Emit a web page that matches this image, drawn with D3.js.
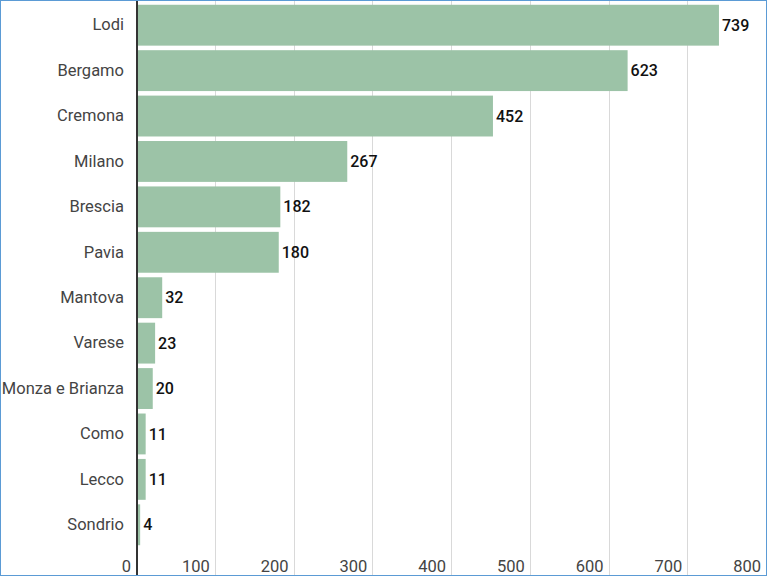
<!DOCTYPE html>
<html>
<head>
<meta charset="UTF-8" />
<script src="https://cdn.jsdelivr.net/npm/d3@7"></script>
<style>
  html, body { margin: 0; padding: 0; background: #fff; }
  #chart { width: 767px; height: 576px; position: relative; }
  .frame { position: absolute; left: 0; top: 0; width: 765px; height: 574px; border: 1px solid #5b9bd5; box-sizing: content-box; pointer-events: none; }
</style>
</head>
<body>
<div id="chart"></div>
<script>
const provinces = ["Lodi", "Bergamo", "Cremona", "Milano", "Brescia", "Pavia", "Mantova", "Varese", "Monza e Brianza", "Como", "Lecco", "Sondrio"];
const cases = [739, 623, 452, 267, 182, 180, 32, 23, 20, 11, 11, 4];
const xTicks = [0, 100, 200, 300, 400, 500, 600, 700, 800];

const w = 767, h = 576;
const mLeft = 137, mRight = 767, mTop = 2.5, mBottom = 547.5;

const svg = d3.select("#chart").append("svg")
    .attr("width", w)
    .attr("height", h)
    .style("font-family", "Roboto, sans-serif");

const x = d3.scaleLinear().domain([0, 800]).range([mLeft, mRight]);
const y = d3.scaleBand().domain(provinces).range([mTop, mBottom]).paddingInner(0.1).paddingOuter(0.05);

// gridlines
svg.append("g").selectAll("line")
    .data(xTicks.slice(1))
    .enter().append("line")
    .attr("x1", d => Math.round(x(d)) - 0.5)
    .attr("x2", d => Math.round(x(d)) - 0.5)
    .attr("y1", 0)
    .attr("y2", h)
    .attr("stroke", "#d9d9d9")
    .attr("stroke-width", 1);

// bars
svg.append("g").selectAll("rect")
    .data(provinces)
    .enter().append("rect")
    .attr("x", x(0))
    .attr("y", d => y(d))
    .attr("width", (d, i) => x(cases[i]) - x(0))
    .attr("height", y.bandwidth())
    .attr("fill", "#9cc3a7");

// value labels
svg.append("g").selectAll("text")
    .data(provinces)
    .enter().append("text")
    .attr("x", (d, i) => x(cases[i]) + 3)
    .attr("y", d => y(d) + y.bandwidth() / 2)
    .attr("dy", "0.35em")
    .attr("font-size", 16)
    .attr("font-weight", 500)
    .attr("fill", "#111")
    .text((d, i) => cases[i]);

// category axis
const yAxis = d3.axisLeft(y).tickSize(0).tickPadding(13);
const ya = svg.append("g")
    .attr("transform", "translate(" + mLeft + ",0)")
    .call(yAxis);
ya.select(".domain").remove();
ya.selectAll("text")
    .attr("font-size", 16.5)
    .attr("font-family", "Roboto, sans-serif")
    .attr("fill", "#444");

// x tick labels, right-aligned left of each gridline
svg.append("g").selectAll("text")
    .data(xTicks)
    .enter().append("text")
    .attr("x", d => x(d) - 6)
    .attr("y", 572)
    .attr("text-anchor", "end")
    .attr("font-size", 16.5)
    .attr("fill", "#444")
    .text(d => d);

// baseline axis line
svg.append("line")
    .attr("x1", mLeft)
    .attr("x2", mLeft)
    .attr("y1", 0)
    .attr("y2", h)
    .attr("stroke", "#333")
    .attr("stroke-width", 2);

d3.select("#chart").append("div").attr("class", "frame");
</script>
</body>
</html>
